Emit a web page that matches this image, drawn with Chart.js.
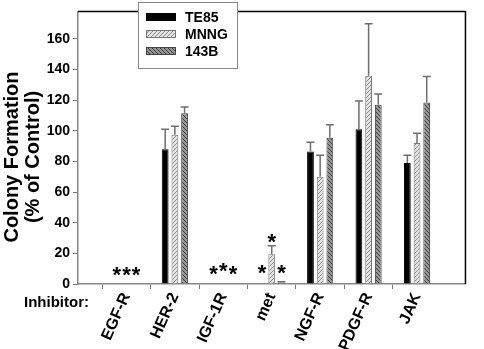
<!DOCTYPE html>
<html>
<head>
<meta charset="utf-8">
<script src="https://cdn.jsdelivr.net/npm/chart.js@4/dist/chart.umd.min.js"></script>
<style>
  html, body { margin: 0; padding: 0; background: #fff; }
  #wrap { width: 484px; height: 349px; }
</style>
</head>
<body>
<div id="wrap"><canvas id="colonyChart" width="484" height="349"></canvas></div>
<script>
// Colony formation per inhibitor (% of control)
const inhibitors = ['', 'EGF-R', 'HER-2', 'IGF-1R', 'met', 'NGF-R', 'PDGF-R', 'JAK', ''];
const seriesNames = ['TE85', 'MNNG', '143B'];

const te85 = [null, 0, 88, 0, 0, 86.5, 101, 79, null];
const mnng = [null, 0, 97.5, 0, 19.5, 70, 136, 92, null];
const b143 = [null, 0, 111.5, 0, 1, 95.5, 117, 118.5, null];

// upward error (SD) for each bar
const te85Err = [0, 0, 13, 0, 0, 6, 18.5, 5, 0];
const mnngErr = [0, 0, 5.5, 0, 5.5, 14, 34, 6.5, 0];
const b143Err = [0, 0, 4, 0, 0.5, 8.5, 7, 17, 0];

const yTicks = [0, 20, 40, 60, 80, 100, 120, 140, 160];
const yTitle = ['Colony Formation', '(% of Control)'];

// significance stars: category, series index, height (% of control)
const stars = [
    ['EGF-R', 0, 9.5], ['EGF-R', 1, 9.5], ['EGF-R', 2, 9.5],
    ['IGF-1R', 0, 10], ['IGF-1R', 1, 12], ['IGF-1R', 2, 10],
    ['met', 0, 11], ['met', 1, 31], ['met', 2, 11]
];

const FONT = 'Arial, "Liberation Sans"';

// hatch patterns for the gray bars
function makeHatch(bg, line, forward) {
    const c = document.createElement('canvas');
    c.width = 4; c.height = 4;
    const g = c.getContext('2d');
    g.fillStyle = bg;
    g.fillRect(0, 0, 4, 4);
    g.strokeStyle = line;
    g.lineWidth = 1;
    g.beginPath();
    if (forward) {
        g.moveTo(0, 4); g.lineTo(4, 0);
        g.moveTo(-1, 1); g.lineTo(1, -1);
        g.moveTo(3, 5); g.lineTo(5, 3);
    } else {
        g.moveTo(0, 0); g.lineTo(4, 4);
        g.moveTo(-1, 3); g.lineTo(1, 5);
        g.moveTo(3, -1); g.lineTo(5, 1);
    }
    g.stroke();
    return g.createPattern(c, 'repeat');
}

const ctx = document.getElementById('colonyChart').getContext('2d');
const mnngFill = makeHatch('#e4e4e4', '#8c8c8c', true);
const b143Fill = makeHatch('#969696', '#3a3a3a', false);

const errors = [te85Err, mnngErr, b143Err];

// error bars, stars, legend box, frame, axis title and "Inhibitor:" label
const extras = {
    id: 'extras',
    afterDatasetsDraw(chart) {
        const c = chart.ctx;
        const y = chart.scales.y;
        c.save();
        c.strokeStyle = '#6e6e6e';
        c.lineWidth = 1.5;
        chart.data.datasets.forEach((ds, di) => {
            chart.getDatasetMeta(di).data.forEach((bar, i) => {
                const e = errors[di][i];
                if (!e || ds.data[i] == null) return;
                const top = y.getPixelForValue(ds.data[i] + e);
                c.beginPath();
                c.moveTo(bar.x, bar.y);
                c.lineTo(bar.x, top);
                c.moveTo(bar.x - 4, top);
                c.lineTo(bar.x + 4, top);
                c.stroke();
            });
        });

        // stars
        c.fillStyle = '#000';
        c.font = 'bold 22px ' + FONT;
        c.textAlign = 'center';
        c.textBaseline = 'alphabetic';
        stars.forEach(([cat, si, v]) => {
            const idx = inhibitors.indexOf(cat);
            const bar = chart.getDatasetMeta(si).data[idx];
            c.fillText('*', bar.x, y.getPixelForValue(v) + 12.5);
        });

        // frame top and right
        const a = chart.chartArea;
        c.strokeStyle = '#000';
        c.lineWidth = 1.5;
        c.beginPath();
        c.moveTo(a.left, a.top);
        c.lineTo(a.right, a.top);
        c.lineTo(a.right, a.bottom);
        c.stroke();

        // legend
        c.fillStyle = '#fff';
        c.fillRect(138, 2, 99, 66);
        c.strokeStyle = '#888';
        c.lineWidth = 1;
        c.strokeRect(138.5, 2.5, 99, 66);
        const fills = ['#000', mnngFill, b143Fill];
        const edges = ['#000', '#777', '#444'];
        c.font = 'bold 14px ' + FONT;
        c.textAlign = 'left';
        c.textBaseline = 'middle';
        seriesNames.forEach((name, k) => {
            const ry = 17 + k * 17;
            c.fillStyle = fills[k];
            c.fillRect(146, ry - 4, 30, 8);
            c.strokeStyle = edges[k];
            c.strokeRect(146.5, ry - 3.5, 29, 7);
            c.fillStyle = '#000';
            c.fillText(name, 185, ry + 1);
        });

        // axis caption
        c.font = 'bold 15px ' + FONT;
        c.fillText('Inhibitor:', 24, 303);

        // y axis title, two rotated lines
        c.font = 'bold 20px ' + FONT;
        c.textAlign = 'center';
        c.translate(0, 157);
        c.rotate(-Math.PI / 2);
        c.fillText(yTitle[0], 0, 12);
        c.fillText(yTitle[1], 0, 33);
        c.restore();
    }
};

new Chart(ctx, {
    type: 'bar',
    data: {
        labels: inhibitors,
        datasets: [
            { label: seriesNames[0], data: te85, backgroundColor: '#000', borderColor: '#000', borderWidth: 1 },
            { label: seriesNames[1], data: mnng, backgroundColor: mnngFill, borderColor: '#7a7a7a', borderWidth: 1 },
            { label: seriesNames[2], data: b143, backgroundColor: b143Fill, borderColor: '#444', borderWidth: 1 }
        ]
    },
    options: {
        responsive: false,
        animation: false,
        layout: { padding: { top: 1, right: 1, left: 0, bottom: 0 } },
        datasets: { bar: { categoryPercentage: 0.6, barPercentage: 0.7 } },
        plugins: {
            legend: { display: false },
            tooltip: { enabled: false }
        },
        scales: {
            x: {
                offset: false,
                grid: {
                    drawOnChartArea: false,
                    tickLength: 5,
                    tickColor: c => (c.index === 0 || c.index === inhibitors.length - 1) ? 'transparent' : '#777'
                },
                border: { color: '#888', width: 1.5 },
                ticks: {
                    color: '#000',
                    font: { family: FONT, size: 16, weight: 'bold' },
                    minRotation: 66,
                    maxRotation: 66,
                    autoSkip: false,
                    padding: 1
                },
                afterFit: s => { s.height = 65; }
            },
            y: {
                min: 0,
                max: 178,
                afterBuildTicks: s => { s.ticks = yTicks.map(v => ({ value: v })); },
                grid: { drawOnChartArea: false, tickLength: 5, tickColor: '#777' },
                border: { color: '#888', width: 1.5 },
                ticks: {
                    color: '#000',
                    font: { family: FONT, size: 14, weight: 'bold' },
                    padding: 3
                },
                afterFit: s => { s.width = 78; }
            }
        }
    },
    plugins: [extras]
});
</script>
</body>
</html>
